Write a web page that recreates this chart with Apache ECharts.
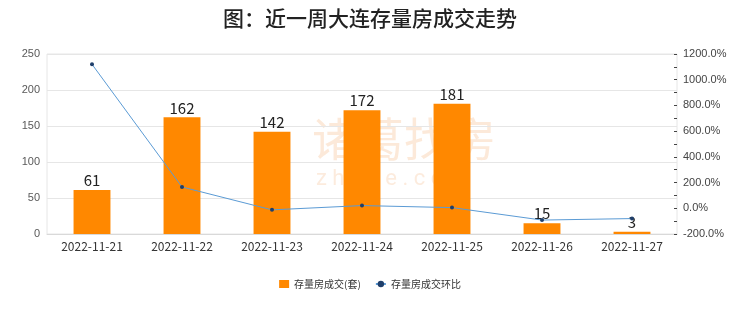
<!DOCTYPE html>
<html>
<head>
<meta charset="utf-8">
<script src="https://cdn.jsdelivr.net/npm/echarts@6/dist/echarts.min.js"></script>
<style>
  html, body { margin: 0; padding: 0; background: #fff; }
  #chart { width: 740px; height: 312px; }
</style>
</head>
<body>
<div id="chart"></div>
<script>
const dates = ["2022-11-21", "2022-11-22", "2022-11-23", "2022-11-24", "2022-11-25", "2022-11-26", "2022-11-27"];
const deals = [61, 162, 142, 172, 181, 15, 3];
// week-on-week change, %
const dealsChange = [1120, 165.6, -12.3, 21.1, 5.2, -91.7, -80];

const chart = echarts.init(document.getElementById("chart"), null, { renderer: "canvas" });

const font = "'Noto Sans CJK SC', 'Noto Sans', sans-serif";

chart.setOption({
  animation: false,
  backgroundColor: "#fff",
  title: {
    text: "图：近一周大连存量房成交走势",
    left: "center",
    top: 3,
    textStyle: { fontSize: 21, fontWeight: 500, color: "#222", fontFamily: font },
  },
  graphic: [
    {
      type: "text", left: 312, top: 116, silent: true,
      style: { text: "诸葛找房", fontSize: 46, fill: "rgba(245,175,120,0.28)", fontFamily: font },
    },
    {
      type: "text", left: 316, top: 168, silent: true,
      style: { text: "z h u g e . c o m", fontSize: 22, fill: "rgba(245,175,120,0.25)", fontFamily: "Roboto, sans-serif" },
    },
  ],
  legend: {
    bottom: 18,
    left: "center",
    itemWidth: 10,
    itemHeight: 8,
    itemGap: 14,
    textStyle: { fontSize: 10, color: "#333", fontFamily: font },
    data: [
      { name: "存量房成交(套)", icon: "rect" },
      { name: "存量房成交环比" },
    ],
  },
  grid: { top: 54, left: 47, right: 63, bottom: 78, show: true, borderColor: "#e6e6e6", borderWidth: 1 },
  xAxis: {
    type: "category",
    data: dates,
    axisLine: { show: true, lineStyle: { color: "#d9d9d9" } },
    axisTick: { show: false },
    axisLabel: { interval: 0, color: "#333", fontSize: 12, margin: 6, fontFamily: font },
  },
  yAxis: [
    {
      type: "value",
      min: 0, max: 250, interval: 50,
      axisLine: { show: false },
      axisTick: { show: false },
      axisLabel: { color: "#595959", fontSize: 11, margin: 7 },
      splitLine: { lineStyle: { color: "#e6e6e6", width: 1 } },
    },
    {
      type: "value",
      min: -200, max: 1200, interval: 200,
      position: "right",
      axisLine: { show: false },
      axisTick: { show: true, inside: true, length: 3, lineStyle: { color: "#444" } },
      minorTick: { show: true, splitNumber: 2, length: 3, lineStyle: { color: "#444" } },
      axisLabel: { color: "#444", fontSize: 11, margin: 6, formatter: (v) => v.toFixed(1) + "%" },
      splitLine: { show: false },
    },
  ],
  series: [
    {
      name: "存量房成交(套)",
      type: "bar",
      data: deals,
      barWidth: "41%",
      itemStyle: { color: "#ff8800" },
      label: { show: true, position: "top", distance: 2, fontSize: 15, color: "#222", fontFamily: font },
    },
    {
      name: "存量房成交环比",
      type: "line",
      yAxisIndex: 1,
      data: dealsChange,
      symbol: "circle",
      symbolSize: 4,
      lineStyle: { color: "#5b9bd5", width: 1 },
      itemStyle: { color: "#1f3f6b" },
    },
  ],
});
</script>
</body>
</html>
